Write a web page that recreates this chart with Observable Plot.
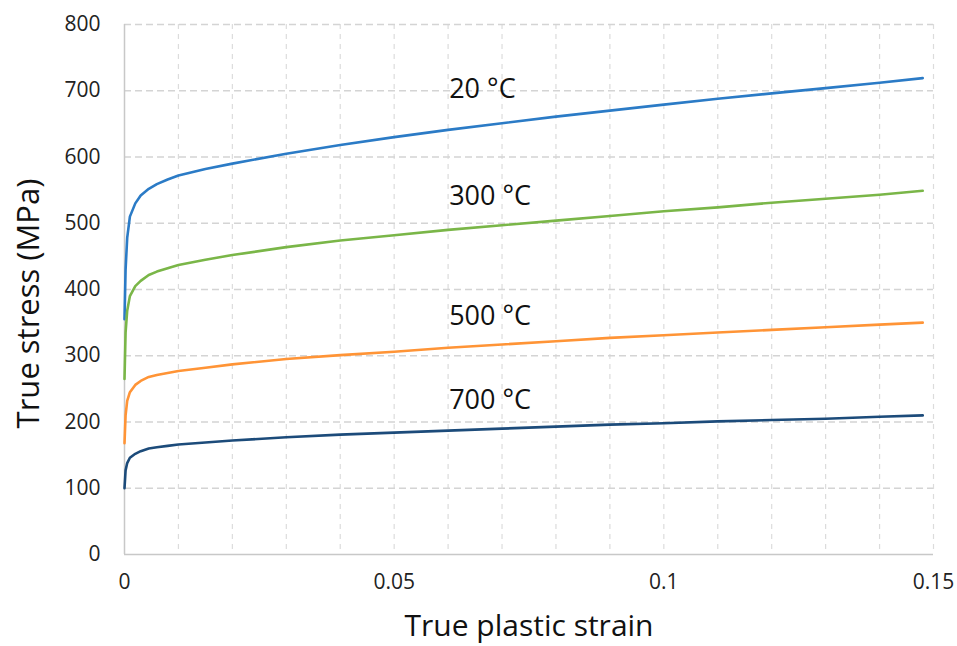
<!DOCTYPE html>
<html>
<head>
<meta charset="utf-8">
<script src="https://cdn.jsdelivr.net/npm/d3@7"></script>
<script src="https://cdn.jsdelivr.net/npm/@observablehq/plot@0.6"></script>
<style>
  html, body { margin: 0; padding: 0; background: #fff; }
  #chart { width: 957px; height: 646px; }
</style>
</head>
<body>
<div id="chart"></div>
<script>
// Strain values (x) shared by all curves
const strain = [0, 0.0002, 0.0005, 0.001, 0.002, 0.003, 0.0045, 0.006, 0.008, 0.01, 0.015, 0.02, 0.03, 0.04, 0.05, 0.06, 0.07, 0.08, 0.09, 0.1, 0.11, 0.12, 0.13, 0.14, 0.148];
// True stress (MPa) per temperature
const stress20  = [355, 430, 478, 510, 530, 542, 552, 559, 566, 572, 582, 590, 605, 618, 630, 641, 651, 661, 670, 679, 688, 696, 704, 712, 719];
const stress300 = [265, 335, 368, 390, 405, 413, 422, 427, 432, 437, 445, 452, 464, 474, 482, 490, 497, 504, 511, 518, 524, 531, 537, 543, 549];
const stress500 = [168, 210, 232, 245, 256, 262, 268, 271, 274, 277, 282, 287, 295, 301, 306, 312, 317, 322, 327, 331, 335, 339, 343, 347, 350];
const stress700 = [100, 127, 138, 146, 152, 156, 160, 162, 164, 166, 169, 172, 177, 181, 184, 187, 190, 193, 196, 198, 201, 203, 205, 208, 210];

const seriesNames = ["20 °C", "300 °C", "500 °C", "700 °C"];
const seriesColors = ["#2b7bc6", "#7ab648", "#ff9436", "#1c4b7a"];
const seriesValues = [stress20, stress300, stress500, stress700];
// Label positions (data coords)
const labelX = [0.0602, 0.0602, 0.0602, 0.0602];
const labelY = [702, 540, 359, 232];

const xTicks = [0, 0.05, 0.1, 0.15];
const xTickLabels = ["0", "0.05", "0.1", "0.15"];
const xMinor = d3.range(0, 16).map(i => i / 100);
const yTicks = [0, 100, 200, 300, 400, 500, 600, 700, 800];

const rows = [];
seriesNames.forEach((name, si) => {
  strain.forEach((x, i) => rows.push({series: name, x, y: seriesValues[si][i]}));
});
const labels = seriesNames.map((name, i) => ({name, x: labelX[i], y: labelY[i]}));

const font = "'Open Sans', 'Liberation Sans', sans-serif";

const chart = Plot.plot({
  width: 957,
  height: 646,
  marginLeft: 124,
  marginRight: 24,
  marginTop: 24,
  marginBottom: 92,
  style: {fontFamily: font, background: "#fff", overflow: "visible"},
  x: {domain: [0, 0.15], label: null},
  y: {domain: [0, 800], label: null},
  color: {domain: seriesNames, range: seriesColors},
  marks: [
    Plot.ruleX(xMinor.filter(v => v > 0), {stroke: "#dcdcdc", strokeWidth: 1.2, strokeDasharray: "5,5"}),
    Plot.ruleY(yTicks.filter(v => v > 0), {stroke: "#d4d4d4", strokeWidth: 1.6, strokeDasharray: "7,4"}),
    Plot.ruleX([0], {stroke: "#c8c8c8", strokeWidth: 1.5}),
    Plot.ruleY([0], {stroke: "#c8c8c8", strokeWidth: 1.5}),
    Plot.axisX({ticks: xTicks, tickFormat: (d) => xTickLabels[xTicks.indexOf(d)], tickSize: 0, tickPadding: 20, fontSize: 21, fill: "#222"}),
    Plot.axisY({ticks: yTicks, tickSize: 0, tickPadding: 24, fontSize: 21, fill: "#222"}),
    Plot.line(rows, {x: "x", y: "y", z: "series", stroke: "series", strokeWidth: 2.6}),
    Plot.text(labels, {x: "x", y: "y", text: "name", textAnchor: "start", fontSize: 27, fill: "#111"}),
    Plot.text(["True plastic strain"], {frameAnchor: "bottom", textAnchor: "middle", lineAnchor: "middle", dy: 72, fontSize: 30, fill: "#111"}),
    Plot.text(["True stress (MPa)"], {frameAnchor: "left", textAnchor: "middle", lineAnchor: "middle", dx: -95, dy: 14, rotate: -90, fontSize: 31, fill: "#111"})
  ]
});
document.getElementById("chart").appendChild(chart);
</script>
</body>
</html>
